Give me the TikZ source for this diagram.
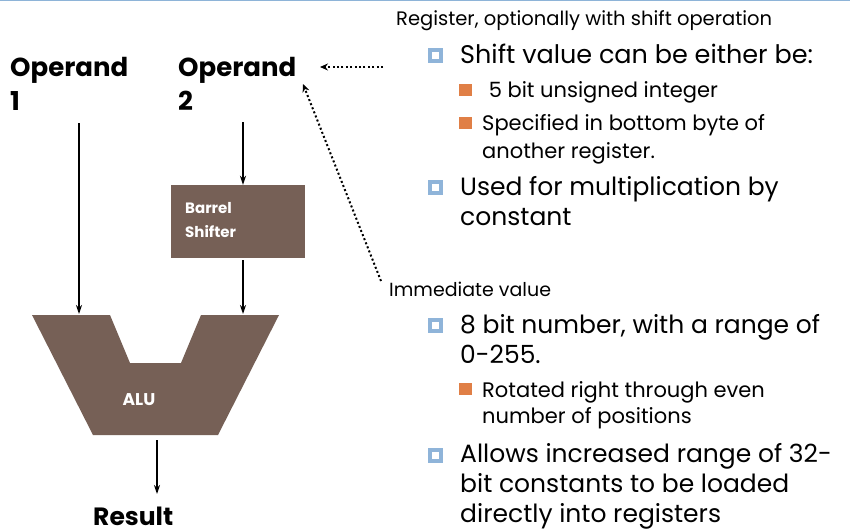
\documentclass[tikz,border=0pt]{standalone}
\usepackage{fontspec}
\setmainfont{Poppins}
\usetikzlibrary{arrows.meta}

\definecolor{alubrown}{RGB}{118,96,86}
\definecolor{rulebl}{RGB}{142,180,216}
\definecolor{bulbl}{RGB}{143,180,217}
\definecolor{bulor}{RGB}{224,127,70}

\tikzset{
  txt/.style={anchor=base west, inner sep=0pt, font=\fontsize{#1}{#1}\selectfont},
  txt/.default=26,
  bold/.style={anchor=base west, inner sep=0pt, font=\fontsize{#1}{#1}\selectfont\bfseries},
  flow/.style={line width=1.6pt, -{Stealth[length=9pt,width=6pt]}},
  pointer/.style={line width=2pt, dash pattern=on 2pt off 2.4pt, -{Stealth[length=8pt,width=7pt]}},
  unit/.style={fill=alubrown, draw=none},
}
% level-one bullet: blue square with a white centre
\newcommand{\bulletone}[2]{%
  \fill[bulbl] (#1-7.5,#2-7.5) rectangle (#1+7.5,#2+7.5);
  \fill[white] (#1-3.5,#2-3.5) rectangle (#1+3.5,#2+3.5);}
% level-two bullet: solid orange square
\newcommand{\bullettwo}[2]{%
  \fill[bulor] (#1-6.5,#2-6) rectangle (#1+6.5,#2+6);}

\begin{document}
\begin{tikzpicture}[x=1pt,y=-1pt]
\useasboundingbox (0,0) rectangle (850,531);
\fill[white] (0,0) rectangle (850,531);
\draw[rulebl, line width=1.5pt] (0,0.5) -- (850,0.5);

% operand labels
\node[bold=26] (op1a) at (10,76) {Operand};
\node[bold=26] (op1b) at (10,110) {1};
\node[bold=26] (op2a) at (178,76) {Operand};
\node[bold=26] (op2b) at (178,110) {2};

% barrel shifter
\node[unit, minimum width=134pt, minimum height=73pt, inner sep=0pt] (bs) at (238,221.5) {};
\node[bold=15, text=white] (bsa) at (185,213) {Barrel};
\node[bold=15, text=white] (bsb) at (185,237) {Shifter};

% ALU outline with its notch
\fill[alubrown] (32,315) -- (110,315) -- (130,363) -- (181,363) -- (201,315)
  -- (279,315) -- (218,435) -- (93,435) -- cycle;
\node[bold=17, text=white, anchor=center] (alu) at (139,400) {ALU};
\coordinate (alu1) at (79,314);
\coordinate (alu2) at (243,314);
\coordinate (aluout) at (157,440);

% result
\node[bold=25] (res) at (93,525) {Result};

% data paths
\coordinate (op1out) at (79,123);
\coordinate (op2out) at (243,122);
\draw[flow] (op1out) -- (alu1);
\draw[flow] (op2out) -- (bs.north -| op2out);
\draw[flow] (bs.south -| op2out) ++(0,2) -- (alu2);
\draw[flow] (aluout) -- (157,494);

% pointers from the notes
\coordinate (regtail) at (383,67);
\coordinate (regtip) at (320,67);
\coordinate (immtail) at (381,281);
\coordinate (immtip) at (303,84);
\draw[pointer] (regtail) -- (regtip);
\draw[pointer] (immtail) -- (immtip);

% register notes
\node[txt=19.5] (reg) at (396,25) {Register, optionally with shift operation};
\bulletone{435}{55}
\node[txt=25.5] (r1) at (460,63) {Shift value can be either be:};
\bullettwo{465.5}{90}
\node[txt=21] (r2) at (488,97) {\hspace{-5pt} 5 bit unsigned integer};
\bullettwo{465.5}{123}
\node[txt=21] (r3a) at (482,130) {Specified in bottom byte of};
\node[txt=21] (r3b) at (482,158) {another register.};
\bulletone{435}{187}
\node[txt=25] (r4a) at (460,195) {Used for multiplication by};
\node[txt=25] (r4b) at (460,225) {constant};

% immediate notes
\node[txt=19] (imm) at (389,296) {Immediate value};
\bulletone{435}{325}
\node[txt=25] (i1a) at (460,333) {8 bit number, with a range of};
\node[txt=25] (i1b) at (460,363) {0-255.};
\bullettwo{465.5}{389}
\node[txt=21] (i2a) at (482,397) {Rotated right through even};
\node[txt=21] (i2b) at (482,423) {number of positions};
\bulletone{435}{455}
\node[txt=25] (i3a) at (460,462) {Allows increased range of 32-};
\node[txt=25] (i3b) at (460,492) {bit constants to be loaded};
\node[txt=25] (i3c) at (460,522) {directly into registers};
\end{tikzpicture}
\end{document}
